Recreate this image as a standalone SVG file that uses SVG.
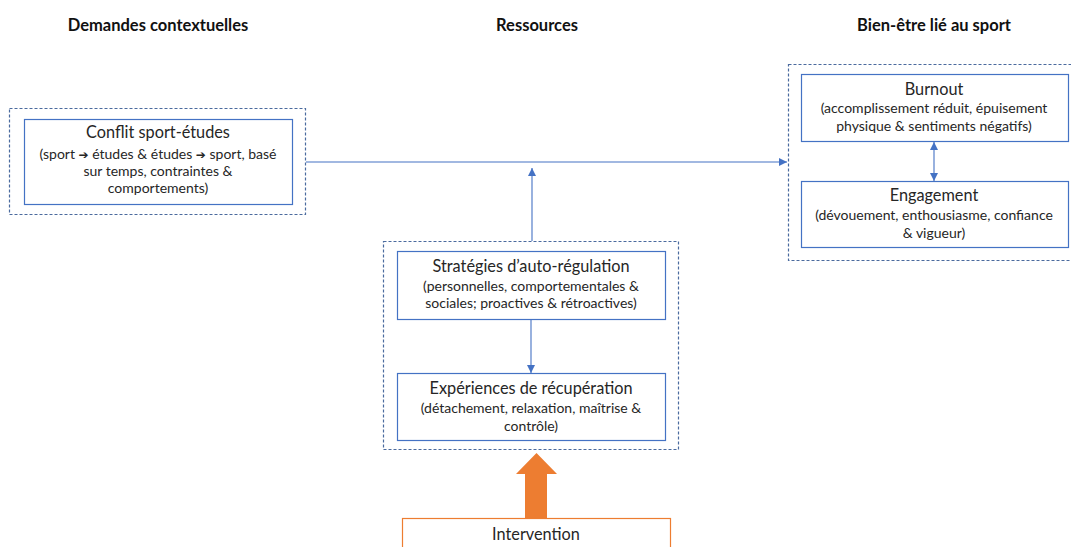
<svg xmlns="http://www.w3.org/2000/svg" width="1071" height="547" viewBox="0 0 1071 547">
  <style>
    .head { font-family: Lato, "Liberation Sans", sans-serif; font-weight: bold; font-size: 16.5px; fill: #111; text-anchor: middle; }
    .title { font-family: Lato, "Liberation Sans", sans-serif; font-size: 16.3px; fill: #262626; text-anchor: middle; }
    .sub { font-family: Lato, "Liberation Sans", sans-serif; font-size: 14px; fill: #262626; text-anchor: middle; }
    .arr { font-family: "DejaVu Sans", sans-serif; font-size: 12px; }
    .box { fill: #fff; stroke: #4472C4; stroke-width: 1.2; }
    .group { fill: none; stroke: #4A6A9E; stroke-width: 1.2; stroke-dasharray: 3 2; }
    .conn { fill: none; stroke: #4472C4; stroke-width: 1.1; }
  </style>
  <defs>
    <marker id="tip" viewBox="0 0 10 10" refX="10" refY="5" markerWidth="8" markerHeight="8" markerUnits="userSpaceOnUse" orient="auto-start-reverse">
      <path d="M0,0 L10,5 L0,10 z" fill="#4472C4"/>
    </marker>
  </defs>
  <rect width="1071" height="547" fill="#fff"/>

  <!-- column headings -->
  <text class="head" x="158" y="31">Demandes contextuelles</text>
  <text class="head" x="537" y="31">Ressources</text>
  <text class="head" x="934" y="31">Bien-être lié au sport</text>

  <!-- connectors -->
  <g id="connectors">
    <line class="conn" x1="306" y1="162" x2="787" y2="162" marker-end="url(#tip)"/>
    <line class="conn" x1="532" y1="241" x2="532" y2="168" marker-end="url(#tip)"/>
    <line class="conn" x1="531" y1="319" x2="531" y2="373" marker-end="url(#tip)"/>
    <line class="conn" x1="934" y1="142" x2="934" y2="181" marker-start="url(#tip)" marker-end="url(#tip)"/>
    <!-- intervention arrow -->
    <path d="M525,518 L525,474 L516,474 L536.5,453 L557,474 L547,474 L547,518 Z" fill="#ED7D31"/>
  </g>

  <!-- contextual demands -->
  <g id="demandes">
    <rect class="group" x="9.5" y="108.5" width="296" height="106"/>
    <g id="conflit">
      <rect class="box" x="24.5" y="119.5" width="268" height="85"/>
      <text class="title" x="158" y="138">Conflit sport-études</text>
      <text class="sub" x="158" y="159">(sport <tspan class="arr">➔</tspan> études &amp; études <tspan class="arr">➔</tspan> sport, basé</text>
      <text class="sub" x="158" y="176">sur temps, contraintes &amp;</text>
      <text class="sub" x="158" y="193">comportements)</text>
    </g>
  </g>

  <!-- resources -->
  <g id="ressources">
    <rect class="group" x="383.5" y="241.5" width="295" height="208"/>
    <g id="strategies">
      <rect class="box" x="397.5" y="251.5" width="268" height="68"/>
      <text class="title" x="531" y="272">Stratégies d’auto-régulation</text>
      <text class="sub" x="531" y="291">(personnelles, comportementales  &amp;</text>
      <text class="sub" x="531" y="308">sociales; proactives &amp; rétroactives)</text>
    </g>
    <g id="recuperation">
      <rect class="box" x="397.5" y="373.5" width="268" height="67"/>
      <text class="title" x="531" y="394">Expériences de récupération</text>
      <text class="sub" x="531" y="413">(détachement, relaxation, maîtrise &amp;</text>
      <text class="sub" x="531" y="431">contrôle)</text>
    </g>
  </g>

  <!-- sport well-being -->
  <g id="bien-etre">
    <rect class="group" x="788.5" y="64.5" width="290" height="196"/>
    <g id="burnout">
      <rect class="box" x="801.5" y="74.5" width="267" height="67"/>
      <text class="title" x="934" y="95">Burnout</text>
      <text class="sub" x="934" y="113">(accomplissement réduit, épuisement</text>
      <text class="sub" x="934" y="131">physique &amp; sentiments négatifs)</text>
    </g>
    <g id="engagement">
      <rect class="box" x="801.5" y="181.5" width="267" height="66"/>
      <text class="title" x="934" y="201">Engagement</text>
      <text class="sub" x="934" y="220">(dévouement,  enthousiasme, confiance</text>
      <text class="sub" x="934" y="238">&amp; vigueur)</text>
    </g>
  </g>

  <!-- intervention -->
  <g id="intervention">
    <rect x="402.5" y="518.5" width="268" height="40" fill="#fff" stroke="#ED7D31" stroke-width="1.2"/>
    <text class="title" x="536" y="540">Intervention</text>
  </g>
</svg>
